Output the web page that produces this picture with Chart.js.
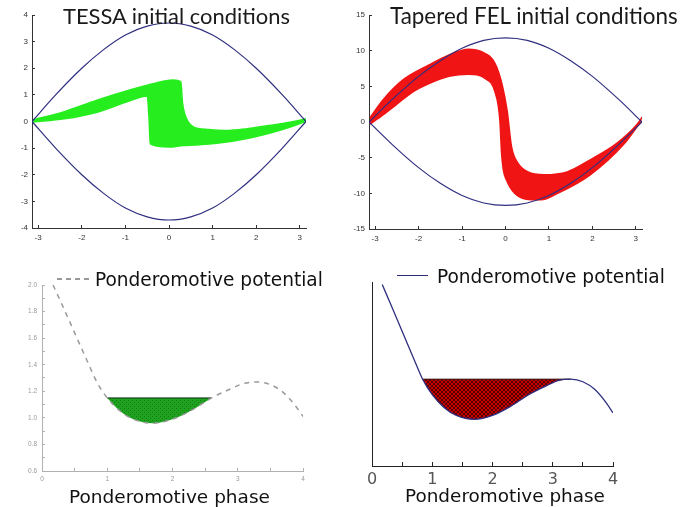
<!DOCTYPE html>
<html lang="en">
<head>
    <meta charset="UTF-8">
    <title>TESSA vs Tapered FEL</title>
    <script src="https://cdn.jsdelivr.net/npm/chart.js"></script>
    <style>
        body {
        margin: 0;
        width: 693px;
        height: 507px;
        position: relative;
        overflow: hidden;
        background: #fff;
        font-family: "DejaVu Sans", sans-serif;
        }
        .box { position: absolute; }
        .txt {
        position: absolute;
        white-space: nowrap;
        line-height: 1;
        color: #111;
        font-size: 18.5px;
        }
        .ttl { font-family: Lato, sans-serif; font-size: 22px; color: #1a1a1a; }
        .dash {
        position: absolute;
        height: 2px;
        background: repeating-linear-gradient(90deg, #999 0 5px, transparent 5px 9px);
        }
        .solid { position: absolute; height: 1px; background: #2b2b7a; }
    </style>
</head>
<body>
    <div class="box" style="left:0;top:0;width:320px;height:250px"><canvas id="c1"></canvas></div>
    <div class="box" style="left:340px;top:0;width:353px;height:250px"><canvas id="c2"></canvas></div>
    <div class="box" style="left:0;top:260px;width:340px;height:247px"><canvas id="c3"></canvas></div>
    <div class="box" style="left:350px;top:260px;width:343px;height:247px"><canvas id="c4"></canvas></div>

    <div class="txt ttl" style="left:63px;top:5px" data-w="227">TESSA initial conditions</div>
    <div class="txt ttl" style="left:390px;top:5px" data-w="288">Tapered FEL initial conditions</div>

    <div class="dash" style="left:57px;top:278px;width:34px"></div>
    <div class="txt" style="left:95px;top:271px" data-w="228">Ponderomotive potential</div>
    <div class="txt" style="left:69px;top:488px" data-w="201">Ponderomotive phase</div>

    <div class="solid" style="left:397px;top:275px;width:31px"></div>
    <div class="txt" style="left:437px;top:268px" data-w="228">Ponderomotive potential</div>
    <div class="txt" style="left:405px;top:487px" data-w="200">Ponderomotive phase</div>

    <script>
        // tick labels
        const phaseTicks = [-3, -2, -1, 0, 1, 2, 3];
        const tessaYTicks = [-4, -3, -2, -1, 0, 1, 2, 3, 4];
        const felYTicks = [-15, -10, -5, 0, 5, 10, 15];
        const potXTicks = [0, 0.5, 1, 1.5, 2, 2.5, 3, 3.5, 4];
        const potYTicks = [0.6, 0.7, 0.8, 0.9, 1.0, 1.1, 1.2, 1.3, 1.4, 1.5, 1.6, 1.7, 1.8, 1.9, 2.0];

        // separatrix
        const sepX = [-3.1416, -2.6, -2.0, -1.5, -1.0, -0.5, 0, 0.5, 1.0, 1.5, 2.0, 2.6, 3.1416];
        const tessaSepUp = [0, 1.0, 2.0, 2.7, 3.25, 3.58, 3.7, 3.58, 3.25, 2.7, 2.0, 1.0, 0];
        const tessaSepLo = [0, -1.0, -2.0, -2.7, -3.25, -3.58, -3.7, -3.58, -3.25, -2.7, -2.0, -1.0, 0];
        const felSepUp = [0, 3.2, 6.4, 8.6, 10.35, 11.45, 11.8, 11.45, 10.35, 8.6, 6.4, 3.2, 0];
        const felSepLo = [0, -3.2, -6.4, -8.6, -10.3, -11.35, -11.7, -11.35, -10.3, -8.6, -6.4, -3.2, 0];

        // TESSA particle band (upper / lower edge)
        const tessaUpX = [-3.12, -2.4, -1.65, -0.9, -0.5, -0.1, 0.1, 0.27, 0.31, 0.4, 0.56, 0.9, 1.3, 1.8, 2.3, 2.8, 3.14];
        const tessaUpY = [0.06, 0.37, 0.8, 1.18, 1.36, 1.52, 1.56, 1.5, 0.7, 0.12, -0.2, -0.3, -0.34, -0.27, -0.15, -0.02, 0.1];
        const tessaLoX = [-3.12, -2.4, -1.65, -0.9, -0.5, -0.46, -0.43, 0.0, 0.33, 0.6, 1.1, 1.85, 2.6, 3.14];
        const tessaLoY = [-0.02, 0.1, 0.35, 0.78, 0.96, 0.2, -0.84, -0.96, -0.9, -0.88, -0.82, -0.62, -0.3, 0.0];

        // tapered FEL particle band (upper / lower edge)
        const felUpX = [-3.12, -2.82, -2.36, -1.76, -1.3, -0.85, -0.55, -0.24, -0.08, 0.04, 0.14, 0.29, 0.52, 0.89, 1.42, 1.95, 2.56, 3.02, 3.15];
        const felUpY = [0.6, 3.1, 5.9, 8.0, 9.4, 10.2, 9.85, 8.2, 5.3, 1.5, -3.5, -5.8, -7.0, -7.4, -7.0, -5.3, -3.0, -0.4, 0.7];
        const felLoX = [-3.12, -2.82, -2.52, -2.14, -1.76, -1.3, -0.85, -0.47, -0.24, -0.13, -0.09, -0.05, 0.02, 0.21, 0.59, 0.82, 1.2, 1.95, 2.71, 3.13];
        const felLoY = [-0.3, 1.0, 2.4, 4.2, 5.4, 6.4, 6.7, 6.1, 4.2, 0.3, -4.4, -6.7, -8.1, -10.0, -10.9, -10.9, -10.0, -7.4, -3.2, 0.2];

        // ponderomotive potential
        const potX = [0.17, 0.3, 0.5, 0.7, 0.84, 1.0, 1.2, 1.4, 1.7, 2.0, 2.3, 2.6, 2.9, 3.1, 3.3, 3.5, 3.7, 3.9, 4.0];
        const potY = [2.0, 1.86, 1.64, 1.42, 1.27, 1.15, 1.05, 0.99, 0.96, 0.99, 1.06, 1.15, 1.22, 1.26, 1.27, 1.25, 1.19, 1.08, 1.01];
        const tessaWell = [1.0, 2.6, 1.15];   // left, right, level
        const felWell = [0.84, 3.3, 1.27];

        const navy = '#2f2f80';
        const lime = '#26ee1e';
        const red = '#f01414';

        function pts(xs, ys) {
        return xs.map((x, i) => ({ x: x, y: ys[i] }));
        }
        function line(xs, ys, color, extra) {
        return Object.assign({
            data: pts(xs, ys),
            borderColor: color,
            borderWidth: 1.2,
            pointRadius: 0,
            fill: false,
            cubicInterpolationMode: 'monotone'
        }, extra || {});
        }
        function wellSets(w, fillStyle, edge) {
        const xs = potX.filter(x => x >= w[0] && x <= w[1]);
        const ys = xs.map(x => potY[potX.indexOf(x)]);
        return [
            line([w[0], w[1]], [w[2], w[2]], edge, { borderWidth: 1, cubicInterpolationMode: 'default' }),
            line(xs, ys, 'rgba(0,0,0,0)', { borderWidth: 0, fill: { value: w[2] }, backgroundColor: fillStyle })
        ];
        }
        function pattern(bg, fg, size, cells) {
        const c = document.createElement('canvas');
        c.width = c.height = size;
        const g = c.getContext('2d');
        g.fillStyle = bg;
        g.fillRect(0, 0, size, size);
        g.fillStyle = fg;
        cells.forEach(p => g.fillRect(p[0], p[1], 1, 1));
        return g.createPattern(c, 'repeat');
        }
        function fixTicks(arr) {
        return s => { s.ticks = arr.map(v => ({ value: v })); };
        }
        function axis(o) {
        return {
            type: 'linear',
            min: o.min,
            max: o.max,
            afterBuildTicks: fixTicks(o.ticks),
            afterFit: s => { if (o.w) s.width = o.w; if (o.h) s.height = o.h; },
            border: { display: true, color: o.color, width: 1 },
            grid: { drawOnChartArea: false, drawTicks: o.tick !== 0, tickLength: -(o.tick || 3), tickColor: o.color, color: o.color },
            ticks: {
            display: o.labels !== false,
            color: o.labelColor || '#333',
            font: { family: o.family || 'Liberation Sans', size: o.size || 8 },
            padding: o.pad,
            callback: o.cb || (v => v)
            }
        };
        }
        function opts(pad, x, y) {
        return {
            animation: false,
            responsive: true,
            maintainAspectRatio: false,
            events: [],
            layout: { padding: pad },
            plugins: { legend: { display: false }, tooltip: { enabled: false } },
            scales: { x: x, y: y }
        };
        }

        // TESSA phase space
        new Chart(document.getElementById('c1'), {
        type: 'line',
        data: {
            datasets: [
            line(sepX, tessaSepUp, navy),
            line(sepX, tessaSepLo, navy),
            line(tessaUpX, tessaUpY, lime, { borderWidth: 1.5 }),
            line(tessaLoX, tessaLoY, lime, { borderWidth: 1.5, fill: '-1', backgroundColor: lime })
            ]
        },
        options: opts({ left: 0, top: 15, right: 14, bottom: 0 },
            axis({ min: -Math.PI, max: Math.PI, ticks: phaseTicks, h: 22, color: '#333', pad: 8 }),
            axis({ min: -4, max: 4, ticks: tessaYTicks, w: 32, color: '#333', pad: 7 }))
        });

        // Tapered FEL phase space
        new Chart(document.getElementById('c2'), {
        type: 'line',
        data: {
            datasets: [
            line(sepX, felSepUp, navy),
            line(sepX, felSepLo, navy),
            line(felUpX, felUpY, red, { borderWidth: 1.5 }),
            line(felLoX, felLoY, red, { borderWidth: 1.5, fill: '-1', backgroundColor: red })
            ]
        },
        options: opts({ left: 0, top: 15, right: 51, bottom: 0 },
            axis({ min: -Math.PI, max: Math.PI, ticks: phaseTicks, h: 21, color: '#333', pad: 8 }),
            axis({ min: -15, max: 15, ticks: felYTicks, w: 29, color: '#333', pad: 7 }))
        });

        // TESSA ponderomotive well
        const greenFill = pattern('#1fa21f', 'rgba(0,70,0,0.45)', 4, [[0, 0], [2, 2]]);
        new Chart(document.getElementById('c3'), {
        type: 'line',
        data: {
            datasets: [
            line(potX, potY, '#9a9a9a', { borderWidth: 1.5, borderDash: [5, 5] })
            ].concat(wellSets(tessaWell, greenFill, '#123312'))
        },
        options: opts({ left: 0, top: 25, right: 37, bottom: 0 },
            axis({ min: 0, max: 4, ticks: potXTicks, h: 36, color: '#b0b0b0', labelColor: '#999', size: 6.5, pad: 7,
                cb: v => (v % 1 === 0 ? v : '') }),
            axis({ min: 0.6, max: 2.0, ticks: potYTicks, w: 42, color: '#b0b0b0', labelColor: '#999', size: 6.5, pad: 8,
                cb: v => (Math.round(v * 10) % 2 === 0 ? v.toFixed(1) : '') }))
        });

        // Tapered FEL ponderomotive well
        const redFill = pattern('#c80000', 'rgba(50,0,0,0.75)', 4,
        [[0, 0], [1, 1], [2, 2], [3, 3], [3, 0], [2, 1], [1, 2], [0, 3]]);
        new Chart(document.getElementById('c4'), {
        type: 'line',
        data: {
            datasets: [
            line(potX, potY, navy, { borderWidth: 1.3 })
            ].concat(wellSets(felWell, redFill, '#300000'))
        },
        options: opts({ left: 0, top: 22, right: 80, bottom: 0 },
            axis({ min: 0, max: 4, ticks: potXTicks, h: 41, color: '#222', labelColor: '#555', family: 'DejaVu Sans', size: 16, pad: 8, tick: 4,
                cb: v => (v % 1 === 0 ? v : '') }),
            axis({ min: 0.6, max: 2.02, ticks: potYTicks, w: 22, color: '#222', labels: false, tick: 0 }))
        });

        // fit the overlay texts to the widths measured on the figure
        document.querySelectorAll('[data-w]').forEach(el => {
        const want = +el.dataset.w;
        const have = el.getBoundingClientRect().width;
        const fs = parseFloat(getComputedStyle(el).fontSize);
        el.style.fontSize = (fs * want / have).toFixed(2) + 'px';
        });
    </script>
</body>
</html>
